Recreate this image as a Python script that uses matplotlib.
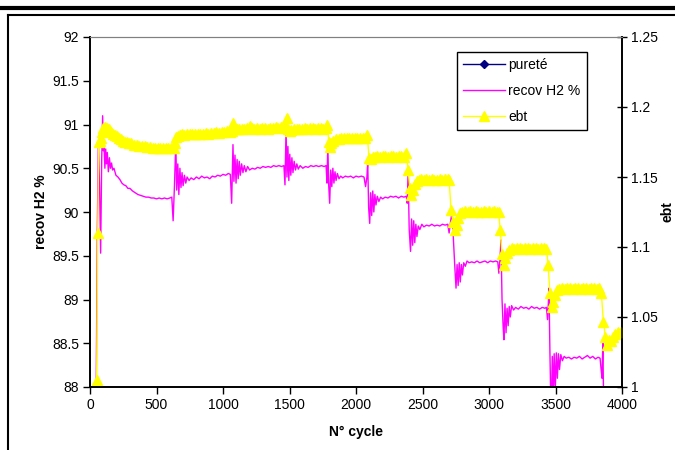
import matplotlib
matplotlib.use("Agg")
import matplotlib.pyplot as plt
from matplotlib.lines import Line2D
from matplotlib.ticker import MultipleLocator, FormatStrFormatter

plt.rcParams['font.family'] = ['Liberation Sans', 'DejaVu Sans']

# recov H2 % (left axis)
recov_cycles = [
    45, 55, 63, 72, 80, 88, 95, 100, 106, 112, 118, 124, 130, 138, 146, 154, 162, 170, 180, 195,
    210, 225, 240, 255, 270, 285, 300, 320, 340, 360, 380, 400, 420, 440, 460, 480, 500, 520, 540, 560,
    580, 600, 615, 625, 635, 645, 652, 660, 668, 676, 684, 692, 700, 710, 720, 730, 745, 760, 780, 800,
    820, 840, 860, 880, 900, 920, 940, 960, 980, 1000, 1020, 1040, 1055, 1065, 1075, 1082, 1090, 1098, 1106, 1114,
    1122, 1130, 1140, 1150, 1160, 1172, 1185, 1200, 1220, 1240, 1260, 1280, 1300, 1320, 1340, 1360, 1380, 1400, 1420, 1440,
    1458, 1466, 1474, 1481, 1488, 1495, 1502, 1510, 1518, 1526, 1535, 1545, 1555, 1566, 1580, 1600, 1620, 1640, 1660, 1680,
    1700, 1720, 1740, 1760, 1775, 1782, 1788, 1795, 1802, 1810, 1818, 1826, 1834, 1842, 1850, 1860, 1872, 1885, 1900, 1920,
    1940, 1960, 1980, 2000, 2020, 2040, 2060, 2072, 2082, 2088, 2095, 2103, 2110, 2118, 2126, 2134, 2142, 2150, 2160, 2172,
    2185, 2200, 2220, 2240, 2260, 2280, 2300, 2320, 2340, 2360, 2378, 2385, 2392, 2400, 2410, 2418, 2426, 2434, 2442, 2450,
    2458, 2468, 2480, 2495, 2510, 2530, 2550, 2570, 2590, 2610, 2630, 2650, 2670, 2690, 2700, 2712, 2722, 2732, 2742, 2752,
    2760, 2768, 2776, 2784, 2792, 2800, 2810, 2822, 2835, 2850, 2870, 2890, 2910, 2930, 2950, 2970, 2990, 3010, 3030, 3050,
    3066, 3074, 3082, 3090, 3098, 3106, 3112, 3120, 3128, 3136, 3144, 3152, 3160, 3170, 3185, 3200, 3220, 3240, 3260, 3280,
    3300, 3320, 3340, 3360, 3380, 3400, 3420, 3432, 3440, 3446, 3451, 3458, 3464, 3470, 3476, 3482, 3490, 3498, 3506, 3514,
    3522, 3530, 3540, 3552, 3565, 3580, 3600, 3620, 3640, 3660, 3680, 3700, 3720, 3740, 3760, 3780, 3800, 3820, 3835, 3843,
    3850, 3856, 3862,
]
recov_values = [
    87.6, 89.8, 90.80, 90.3, 89.53, 90.6, 91.10, 90.70, 90.75, 90.50, 90.72, 90.55, 90.68, 90.46, 90.62, 90.50, 90.56, 90.48, 90.50, 90.42,
    90.40, 90.37, 90.33, 90.31, 90.30, 90.27, 90.27, 90.24, 90.22, 90.20, 90.19, 90.18, 90.17, 90.17, 90.16, 90.16, 90.15, 90.16, 90.15, 90.16,
    90.15, 90.16, 90.17, 89.90, 90.30, 90.80, 90.25, 90.55, 90.20, 90.50, 90.28, 90.45, 90.30, 90.42, 90.33, 90.40, 90.36, 90.39, 90.37, 90.40,
    90.38, 90.41, 90.39, 90.40, 90.38, 90.41, 90.40, 90.42, 90.41, 90.43, 90.42, 90.44, 90.43, 90.10, 90.77, 90.35, 90.65, 90.33, 90.60, 90.38,
    90.58, 90.42, 90.55, 90.45, 90.53, 90.46, 90.52, 90.48, 90.50, 90.49, 90.51, 90.50, 90.52, 90.51, 90.52, 90.51, 90.53, 90.52, 90.53, 90.52,
    90.53, 90.31, 90.95, 90.40, 90.75, 90.36, 90.66, 90.42, 90.62, 90.45, 90.58, 90.48, 90.55, 90.49, 90.53, 90.50, 90.52, 90.51, 90.53, 90.52,
    90.53, 90.52, 90.53, 90.52, 90.53, 90.33, 90.77, 90.30, 90.10, 90.48, 90.29, 90.50, 90.33, 90.46, 90.36, 90.44, 90.38, 90.41, 90.39, 90.41,
    90.40, 90.41, 90.39, 90.41, 90.40, 90.41, 90.40, 90.29, 90.40, 90.57, 90.05, 89.87, 90.22, 89.96, 90.24, 90.00, 90.20, 90.08, 90.18, 90.12,
    90.17, 90.15, 90.17, 90.16, 90.18, 90.17, 90.18, 90.16, 90.18, 90.17, 90.18, 90.10, 90.46, 89.80, 89.55, 89.92, 89.62, 89.90, 89.65, 89.86,
    89.72, 89.84, 89.80, 89.86, 89.83, 89.85, 89.84, 89.86, 89.84, 89.85, 89.84, 89.86, 89.85, 89.86, 89.76, 89.90, 90.00, 89.70, 89.40, 89.13,
    89.40, 89.16, 89.42, 89.20, 89.40, 89.28, 89.42, 89.38, 89.44, 89.42, 89.43, 89.42, 89.44, 89.42, 89.43, 89.44, 89.42, 89.44, 89.43, 89.44,
    89.43, 89.30, 89.45, 89.68, 89.00, 88.70, 88.54, 88.95, 88.62, 88.90, 88.70, 88.92, 88.80, 88.93, 88.88, 88.91, 88.89, 88.92, 88.90, 88.91,
    88.89, 88.92, 88.90, 88.91, 88.89, 88.91, 88.90, 88.91, 88.77, 88.95, 89.13, 88.40, 87.90, 87.80, 88.35, 87.85, 88.38, 87.95, 88.39, 88.10,
    88.38, 88.20, 88.37, 88.30, 88.35, 88.33, 88.34, 88.32, 88.34, 88.33, 88.35, 88.32, 88.34, 88.36, 88.33, 88.35, 88.32, 88.34, 88.33, 88.20,
    88.10, 88.52, 87.80,
]

# ebt (right axis)
ebt_cycles = [
    50, 58, 66, 74, 82, 90, 100, 110, 120, 130, 140, 150, 160, 175, 190, 205, 220, 235, 250, 265,
    280, 295, 310, 330, 350, 370, 390, 410, 430, 450, 470, 490, 510, 530, 550, 570, 590, 610, 630, 640,
    650, 665, 680, 695, 710, 730, 750, 770, 790, 810, 830, 850, 870, 890, 910, 930, 950, 970, 990, 1010,
    1030, 1050, 1065, 1078, 1090, 1105, 1120, 1140, 1160, 1180, 1200, 1215, 1235, 1255, 1275, 1295, 1315, 1335, 1355, 1375,
    1395, 1415, 1435, 1455, 1470, 1478, 1486, 1500, 1515, 1535, 1555, 1575, 1595, 1615, 1635, 1655, 1675, 1695, 1715, 1735,
    1755, 1772, 1785, 1795, 1805, 1815, 1830, 1850, 1870, 1890, 1910, 1930, 1950, 1970, 1990, 2010, 2030, 2050, 2070, 2085,
    2098, 2110, 2125, 2140, 2160, 2180, 2200, 2220, 2240, 2260, 2280, 2300, 2320, 2340, 2360, 2378, 2392, 2405, 2415, 2428,
    2440, 2455, 2470, 2490, 2510, 2530, 2550, 2570, 2590, 2610, 2630, 2650, 2670, 2690, 2700, 2715, 2730, 2745, 2758, 2770,
    2785, 2800, 2820, 2840, 2860, 2880, 2900, 2920, 2940, 2960, 2980, 3000, 3020, 3040, 3060, 3072, 3085, 3098, 3110, 3122,
    3135, 3150, 3170, 3190, 3210, 3230, 3250, 3270, 3290, 3310, 3330, 3350, 3370, 3390, 3410, 3432, 3445, 3458, 3470, 3482,
    3495, 3510, 3530, 3550, 3570, 3590, 3610, 3630, 3650, 3670, 3690, 3710, 3730, 3750, 3770, 3790, 3810, 3830, 3845, 3860,
    3875, 3888, 3900, 3915, 3930, 3950, 3970, 3990,
]
ebt_values = [
    1.005, 1.11, 1.175, 1.176, 1.178, 1.182, 1.185, 1.186, 1.185, 1.185, 1.184, 1.183, 1.182, 1.181, 1.180, 1.179, 1.178, 1.177, 1.176, 1.175,
    1.175, 1.174, 1.174, 1.173, 1.173, 1.172, 1.172, 1.172, 1.1715, 1.1715, 1.171, 1.171, 1.171, 1.171, 1.1705, 1.1705, 1.1705, 1.171, 1.171, 1.1745,
    1.1788, 1.1795, 1.180, 1.1805, 1.180, 1.1805, 1.181, 1.1805, 1.181, 1.181, 1.1805, 1.181, 1.1815, 1.181, 1.1815, 1.1815, 1.182, 1.1815, 1.182, 1.182,
    1.1825, 1.182, 1.183, 1.1886, 1.1845, 1.184, 1.1845, 1.184, 1.1845, 1.185, 1.1865, 1.185, 1.1845, 1.185, 1.1845, 1.185, 1.185, 1.1845, 1.185, 1.185,
    1.1855, 1.185, 1.1855, 1.185, 1.186, 1.192, 1.184, 1.183, 1.1835, 1.184, 1.1845, 1.184, 1.1845, 1.185, 1.1845, 1.185, 1.185, 1.1845, 1.185, 1.185,
    1.1845, 1.185, 1.187, 1.175, 1.1716, 1.174, 1.176, 1.1770, 1.1775, 1.1776, 1.178, 1.1776, 1.178, 1.1776, 1.178, 1.178, 1.1776, 1.178, 1.178, 1.180,
    1.1633, 1.1625, 1.164, 1.1645, 1.165, 1.1645, 1.165, 1.165, 1.1645, 1.165, 1.165, 1.1645, 1.165, 1.165, 1.1645, 1.167, 1.155, 1.142, 1.137, 1.141,
    1.145, 1.147, 1.148, 1.1485, 1.148, 1.1485, 1.148, 1.1485, 1.148, 1.148, 1.1485, 1.148, 1.1485, 1.1485, 1.148, 1.1264, 1.118, 1.112, 1.116, 1.121,
    1.124, 1.125, 1.1255, 1.125, 1.1255, 1.125, 1.1255, 1.125, 1.125, 1.1255, 1.125, 1.1255, 1.125, 1.1255, 1.125, 1.125, 1.112, 1.095, 1.087, 1.092,
    1.096, 1.098, 1.099, 1.0985, 1.099, 1.099, 1.0985, 1.099, 1.099, 1.0985, 1.099, 1.099, 1.0985, 1.099, 1.099, 1.0985, 1.087, 1.067, 1.057, 1.061,
    1.066, 1.069, 1.070, 1.0705, 1.070, 1.0705, 1.0705, 1.070, 1.0705, 1.0705, 1.070, 1.0705, 1.0705, 1.070, 1.0705, 1.0705, 1.070, 1.0705, 1.067, 1.0467,
    1.036, 1.030, 1.0336, 1.033, 1.036, 1.038, 1.0395, 1.0395,
]

# pureté stays above the 92 % limit, so it is clipped out of view
purete_cycles = [50, 640, 1080, 1480, 1800, 2100, 2400, 2750, 3100, 3470, 3860]
purete_values = [99.95, 99.96, 99.96, 99.97, 99.96, 99.97, 99.97, 99.98, 99.98, 99.98, 99.99]

fig = plt.figure(figsize=(6.75, 4.5), dpi=100)
W, H = 675, 450
ax = fig.add_axes([90 / W, 1 - 387 / H, 532 / W, 350 / H])
ax2 = ax.twinx()

l1, = ax.plot(purete_cycles, purete_values, color='#000080', marker='D', markersize=4, lw=1, label='pureté')
l2, = ax.plot(recov_cycles, recov_values, color='#FF00FF', lw=1, label='recov H2 %')
l3, = ax2.plot(ebt_cycles, ebt_values, color='#FFFF00', lw=1, marker='^', markersize=6.5,
               markeredgecolor='#FFFF00', label='ebt')

ax.set_xlim(0, 4000)
ax.set_ylim(88, 92)
ax2.set_ylim(1, 1.25)
ax.xaxis.set_major_locator(MultipleLocator(500))
ax.yaxis.set_major_locator(MultipleLocator(0.5))
ax2.yaxis.set_major_locator(MultipleLocator(0.05))
ax.yaxis.set_major_formatter(FormatStrFormatter('%g'))
ax2.yaxis.set_major_formatter(FormatStrFormatter('%g'))

for a in (ax, ax2):
    a.spines['top'].set_color('#808080')
    a.spines['top'].set_linewidth(0.8)
    for s in ('left', 'right', 'bottom'):
        a.spines[s].set_color('black')
        a.spines[s].set_linewidth(1.2)

ax.tick_params(axis='both', labelsize=10, direction='out', length=5, width=1, pad=3)
ax2.tick_params(axis='y', labelsize=10, direction='inout', length=7, width=1, pad=3)

ax.set_xlabel('N° cycle', fontsize=10, fontweight='bold')
ax.set_ylabel('recov H2 %', fontsize=10, fontweight='bold')
ax.xaxis.set_label_coords(0.5, -0.108)
ax.yaxis.set_label_coords(-0.079, 0.5)
fig.text(668 / W, 1 - 212 / H, 'ebt', rotation=90, fontsize=10, fontweight='bold',
         ha='center', va='center')

leg = ax2.legend(handles=[l1, l2, l3], loc='upper left',
                 bbox_to_anchor=((457 - 90) / 532, (387 - 52) / 350),
                 borderaxespad=0, frameon=True, fancybox=False, edgecolor='black',
                 framealpha=1, fontsize=10, handlelength=3.0, borderpad=0.45,
                 labelspacing=0.85, handletextpad=0.25)
leg.get_frame().set_linewidth(1)

# page decorations around the chart
fig.add_artist(Line2D([0, 1], [1 - 8 / H] * 2, color='black', lw=3, transform=fig.transFigure))
fig.add_artist(Line2D([8 / W, 8 / W], [0, 1 - 15 / H], color='black', lw=1.5, transform=fig.transFigure))
fig.add_artist(Line2D([8 / W, 1], [1 - 15 / H] * 2, color='black', lw=1.5, transform=fig.transFigure))

fig.savefig('out.png', dpi=100)
